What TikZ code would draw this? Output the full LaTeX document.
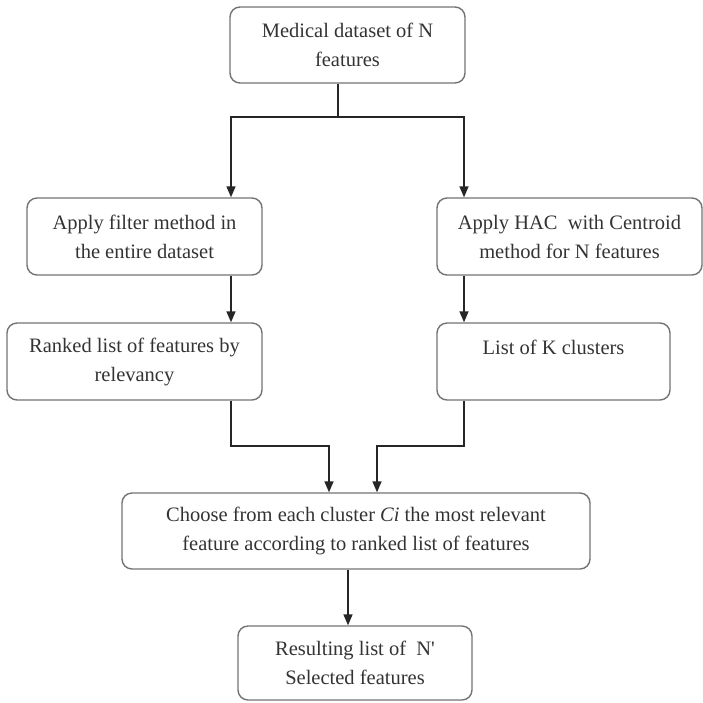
\documentclass[tikz,border=0pt]{standalone}
\usepackage{fontspec}
\setmainfont{Liberation Serif}
\usetikzlibrary{arrows.meta}

\begin{document}
\begin{tikzpicture}[
        x=1pt, y=-1pt,
        >={Triangle[length=11pt,width=9pt]},
        box/.style={
            draw=black!55,
            line width=1.4pt,
            rounded corners=10pt,
            inner sep=0pt,
            align=center,
            text=black!80,
            font=\fontsize{20.5}{29}\selectfont
        },
        link/.style={->, line width=1.5pt, draw=black!85}
    ]
        \useasboundingbox (0,0) rectangle (703,702);

        \node[box, minimum width=235pt, minimum height=76pt] (data) at (347.5,45) {Medical dataset of N\\features};
        \node[box, minimum width=235pt, minimum height=77pt] (filter) at (144.5,236.5) {Apply filter method in\\the entire dataset};
        \node[box, minimum width=265pt, minimum height=77pt] (hac) at (569.5,236.5) {Apply HAC \ with Centroid\\method for N features};
        \node[box, minimum width=255pt, minimum height=77pt] (ranked) at (134.5,361.5) {Ranked list of features by\\relevancy};
        \node[box, minimum width=233pt, minimum height=77pt] (clusters) at (553.5,361.5) {List of K clusters\\\mbox{}};
        \node[box, minimum width=468pt, minimum height=76pt] (choose) at (356,531) {Choose from each cluster \textit{Ci} the most relevant\\feature according to ranked list of features};
        \node[box, minimum width=234pt, minimum height=74pt] (result) at (355,663) {Resulting list of \ N\textquotesingle\\Selected features};

        \coordinate (split) at (338,117);
        \coordinate (lcol) at (231,117);
        \coordinate (rcol) at (464,117);
        \coordinate (lmerge) at (329,446);
        \coordinate (rmerge) at (377,446);
        \coordinate (mcol) at (348,600);

        \draw[line width=1.5pt, draw=black!85] (data.south -| split) -- (split);
        \draw[link] (split) -- (lcol) -- (filter.north -| lcol);
        \draw[link] (split) -- (rcol) -- (hac.north -| rcol);
        \draw[link] (filter.south -| lcol) -- (ranked.north -| lcol);
        \draw[link] (hac.south -| rcol) -- (clusters.north -| rcol);
        \draw[link] (ranked.south -| lcol) |- (lmerge) -- (lmerge |- choose.north);
        \draw[link] (clusters.south -| rcol) |- (rmerge) -- (rmerge |- choose.north);
        \draw[link] (choose.south -| mcol) -- (result.north -| mcol);
    \end{tikzpicture}
\end{document}
